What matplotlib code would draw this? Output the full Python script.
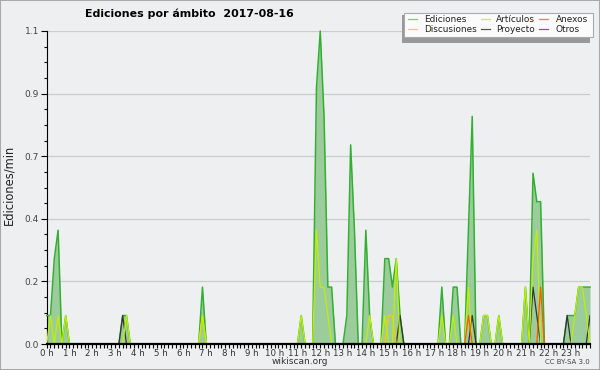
import numpy as np
import matplotlib
matplotlib.use("Agg")
import matplotlib.pyplot as plt
from matplotlib.patches import Rectangle
from matplotlib.lines import Line2D
from matplotlib.ticker import FixedLocator, MultipleLocator

# ediciones/min, one value per 10-minute slot (144 slots, 12 per row = 2 hours)
ediciones = [
    0.1, 0.1, 0.3, 0.4, 0, 0.1, 0, 0, 0, 0, 0, 0,
    0, 0, 0, 0, 0, 0, 0, 0, 0.1, 0.1, 0, 0,
    0, 0, 0, 0, 0, 0, 0, 0, 0, 0, 0, 0,
    0, 0, 0, 0, 0, 0.2, 0, 0, 0, 0, 0, 0,
    0, 0, 0, 0, 0, 0, 0, 0, 0, 0, 0, 0,
    0, 0, 0, 0, 0, 0, 0, 0.1, 0, 0, 0, 0.9,
    1.1, 0.8, 0.2, 0.2, 0, 0, 0, 0.1, 0.7, 0.4, 0, 0,
    0.4, 0.1, 0, 0, 0, 0.3, 0.3, 0.2, 0.3, 0.1, 0, 0,
    0, 0, 0, 0, 0, 0, 0, 0, 0.2, 0, 0, 0.2,
    0.2, 0, 0, 0.4, 0.8, 0, 0, 0.1, 0.1, 0, 0, 0.1,
    0, 0, 0, 0, 0, 0, 0.2, 0, 0.6, 0.5, 0.5, 0,
    0, 0, 0, 0, 0, 0.1, 0.1, 0.1, 0.2, 0.2, 0.2, 0.2,
]
articulos = [
    0, 0.1, 0, 0.1, 0, 0.1, 0, 0, 0, 0, 0, 0,
    0, 0, 0, 0, 0, 0, 0, 0, 0, 0.1, 0, 0,
    0, 0, 0, 0, 0, 0, 0, 0, 0, 0, 0, 0,
    0, 0, 0, 0, 0, 0.1, 0, 0, 0, 0, 0, 0,
    0, 0, 0, 0, 0, 0, 0, 0, 0, 0, 0, 0,
    0, 0, 0, 0, 0, 0, 0, 0.1, 0, 0, 0, 0.4,
    0.2, 0.2, 0.1, 0, 0, 0, 0, 0, 0, 0, 0, 0,
    0, 0.1, 0, 0, 0, 0.1, 0, 0, 0.3, 0, 0, 0,
    0, 0, 0, 0, 0, 0, 0, 0, 0.1, 0, 0, 0.1,
    0, 0, 0, 0.2, 0, 0, 0, 0.1, 0.1, 0, 0, 0.1,
    0, 0, 0, 0, 0, 0, 0.2, 0, 0.3, 0.4, 0, 0,
    0, 0, 0, 0, 0, 0, 0, 0.1, 0.2, 0.2, 0.1, 0,
]
discusiones = [
    0, 0, 0, 0, 0, 0, 0, 0, 0, 0, 0, 0,
    0, 0, 0, 0, 0, 0, 0, 0, 0, 0, 0, 0,
    0, 0, 0, 0, 0, 0, 0, 0, 0, 0, 0, 0,
    0, 0, 0, 0, 0, 0.1, 0, 0, 0, 0, 0, 0,
    0, 0, 0, 0, 0, 0, 0, 0, 0, 0, 0, 0,
    0, 0, 0, 0, 0, 0, 0, 0, 0, 0, 0, 0,
    0, 0, 0, 0, 0, 0, 0, 0, 0, 0, 0, 0,
    0, 0, 0, 0, 0, 0, 0.1, 0.1, 0, 0, 0, 0,
    0, 0, 0, 0, 0, 0, 0, 0, 0, 0, 0, 0,
    0, 0, 0, 0, 0, 0, 0, 0, 0, 0, 0, 0,
    0, 0, 0, 0, 0, 0, 0, 0, 0, 0, 0, 0,
    0, 0, 0, 0, 0, 0, 0, 0, 0, 0, 0, 0,
]
anexos = [
    0, 0, 0, 0, 0, 0, 0, 0, 0, 0, 0, 0,
    0, 0, 0, 0, 0, 0, 0, 0, 0, 0, 0, 0,
    0, 0, 0, 0, 0, 0, 0, 0, 0, 0, 0, 0,
    0, 0, 0, 0, 0, 0, 0, 0, 0, 0, 0, 0,
    0, 0, 0, 0, 0, 0, 0, 0, 0, 0, 0, 0,
    0, 0, 0, 0, 0, 0, 0, 0, 0, 0, 0, 0,
    0, 0, 0, 0, 0, 0, 0, 0, 0, 0, 0, 0,
    0, 0, 0, 0, 0, 0, 0, 0, 0, 0, 0, 0,
    0, 0, 0, 0, 0, 0, 0, 0, 0, 0, 0, 0,
    0, 0, 0, 0.1, 0, 0, 0, 0, 0, 0, 0, 0,
    0, 0, 0, 0, 0, 0, 0, 0, 0, 0, 0.2, 0,
    0, 0, 0, 0, 0, 0, 0, 0, 0, 0, 0, 0,
]
proyecto = [
    0, 0, 0, 0, 0, 0, 0, 0, 0, 0, 0, 0,
    0, 0, 0, 0, 0, 0, 0, 0, 0.1, 0, 0, 0,
    0, 0, 0, 0, 0, 0, 0, 0, 0, 0, 0, 0,
    0, 0, 0, 0, 0, 0, 0, 0, 0, 0, 0, 0,
    0, 0, 0, 0, 0, 0, 0, 0, 0, 0, 0, 0,
    0, 0, 0, 0, 0, 0, 0, 0, 0, 0, 0, 0,
    0, 0, 0, 0, 0, 0, 0, 0, 0, 0, 0, 0,
    0, 0, 0, 0, 0, 0, 0, 0, 0, 0.1, 0, 0,
    0, 0, 0, 0, 0, 0, 0, 0, 0, 0, 0, 0,
    0, 0, 0, 0, 0.1, 0, 0, 0, 0, 0, 0, 0,
    0, 0, 0, 0, 0, 0, 0, 0, 0.2, 0.1, 0, 0,
    0, 0, 0, 0, 0, 0.1, 0, 0, 0, 0, 0, 0.1,
]
otros = [0] * 144

ytick_vals = [0, 0.22, 0.44, 0.66, 0.88, 1.1]
ytick_labels = ["0.0", "0.2", "0.4", "0.7", "0.9", "1.1"]
hour_labels = ["%d h" % h for h in range(24)]
legend_labels = ["Ediciones", "Artículos", "Anexos", "Discusiones", "Proyecto", "Otros"]

BG = "#eeeff0"
ED_LINE = "#33b033"
ED_FILL = "#9ccb9c"
colors = {"Artículos": "#bff000", "Discusiones": "#ffc800", "Anexos": "#ff5a00",
          "Proyecto": "#333333", "Otros": "#9933ff"}
legend_colors = ["#7acc7a", "#c8ee55", "#ff7a44", "#ffcc44", "#555555", "#8844ee"]

W, H = 600, 370
fx = lambda x: x / W
fy = lambda y: 1 - y / H

fig = plt.figure(figsize=(6, 3.7), dpi=100, facecolor=BG)
ax = fig.add_axes([fx(46.7), fy(344), (590 - 46.7) / W, (344 - 31) / H])
ax.set_facecolor(BG)

hours = np.arange(144) / 6.0
ax.fill_between(hours, ediciones, color=ED_FILL, lw=0, zorder=2)
ax.plot(hours, ediciones, color=ED_LINE, lw=1.1, zorder=3, clip_on=False)
for name, vals in [("Otros", otros), ("Proyecto", proyecto), ("Discusiones", discusiones),
                   ("Artículos", articulos), ("Anexos", anexos)]:
    ax.plot(hours, vals, color=colors[name], lw=0.9, zorder=4)

ax.set_xlim(0, 143 / 6.0)
ax.set_ylim(0, 1.1)

ax.xaxis.set_major_locator(FixedLocator(range(24)))
ax.xaxis.set_minor_locator(MultipleLocator(1 / 6.0))
ax.set_xticklabels(hour_labels)
ax.yaxis.set_major_locator(FixedLocator(ytick_vals))
ax.yaxis.set_minor_locator(MultipleLocator(0.055))
ax.set_yticklabels(ytick_labels)

ax.tick_params(axis="x", which="both", length=3, width=0.8, pad=0.3,
               labelsize=6.2, labelcolor="#333333")
ax.tick_params(axis="y", which="major", length=4, width=0.8, pad=1.5,
               labelsize=6.5, labelcolor="#444444")
ax.tick_params(axis="y", which="minor", length=2.5, width=0.8)

ax.grid(axis="y", which="major", color="#cccccc", lw=0.9, zorder=1)
ax.set_axisbelow(True)
for s in ["top", "right"]:
    ax.spines[s].set_visible(False)
ax.spines["left"].set_linewidth(0.8)
ax.spines["bottom"].set_linewidth(1.6)
ax.spines["bottom"].set_zorder(6)

fig.text(fx(85), fy(14), "Ediciones por ámbito  2017-08-16", fontsize=7.9,
         fontweight="bold", ha="left", va="center")
fig.text(fx(9), fy(185), "Ediciones/min", rotation=90, fontsize=8.3,
         ha="center", va="center", color="#222222")
fig.text(fx(300), fy(362), "wikiscan.org", fontsize=6.5, ha="center", va="center",
         color="#333333")
fig.text(fx(590), fy(362.5), "CC BY-SA 3.0", fontsize=5, ha="right", va="center",
         color="#444444")

# legend box with shadow
fig.patches.append(Rectangle((fx(401.7), fy(42.7)), (590 - 401.7) / W, (42.7 - 15) / H,
                             transform=fig.transFigure, fc="#999999", ec="none"))
fig.patches.append(Rectangle((fx(404), fy(37.3)), (593.3 - 404) / W, (37.3 - 12.7) / H,
                             transform=fig.transFigure, fc="#fbfbfb", ec="#aaaaaa", lw=0.8))
line_x = [408, 481, 539]
text_x = [424, 496, 556]
row_y = [19, 29]
for k, lab in enumerate(legend_labels):
    r, c = divmod(k, 3)
    fig.lines.append(Line2D([fx(line_x[c]), fx(line_x[c] + 9)], [fy(row_y[r]), fy(row_y[r])],
                            transform=fig.transFigure, color=legend_colors[k], lw=0.9))
    fig.text(fx(text_x[c]), fy(row_y[r]), lab, fontsize=6.4, ha="left", va="center",
             color="#222222")

fig.patches.append(Rectangle((0, 0), 1, 1, transform=fig.transFigure, fill=False,
                             ec="#aaaaaa", lw=1.5))

fig.savefig("out.png", dpi=100, facecolor=BG)
